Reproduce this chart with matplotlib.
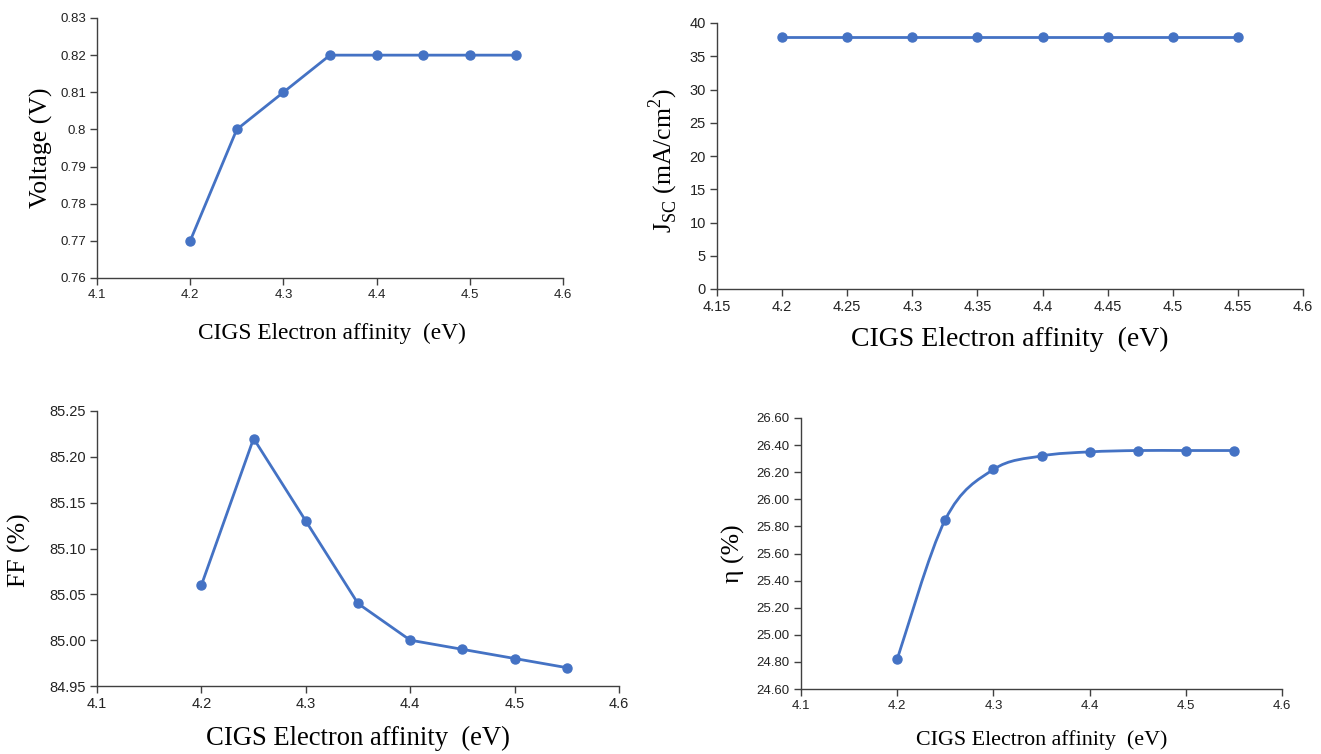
import numpy as np
import matplotlib.pyplot as plt
from matplotlib.path import Path
import matplotlib.patches as patches

# --- data ---
affinity = [4.2, 4.25, 4.3, 4.35, 4.4, 4.45, 4.5, 4.55]
voc = [0.77, 0.80, 0.81, 0.82, 0.82, 0.82, 0.82, 0.82]
jsc = [37.9, 37.9, 37.9, 37.9, 37.9, 37.9, 37.9, 37.9]
ff = [85.06, 85.22, 85.13, 85.04, 85.00, 84.99, 84.98, 84.97]
eta = [24.82, 25.85, 26.22, 26.32, 26.35, 26.36, 26.36, 26.36]

BLUE = '#4472C4'
TICK_FONT = 'Liberation Sans'
LABEL_FONT = 'Liberation Serif'
LW = 2.0
MS = 6.5
W, H = 1321, 754


def box(l, r, t, b):
    # axes rectangle from pixel edges (top-left origin)
    return [l / W, 1 - b / H, (r - l) / W, (b - t) / H]


fig = plt.figure(figsize=(13.21, 7.54), dpi=100)

ax1 = fig.add_axes(box(97, 563, 18, 278))
ax2 = fig.add_axes(box(717, 1303, 23, 289))
ax3 = fig.add_axes(box(97, 619, 411, 686))
ax4 = fig.add_axes(box(801, 1282, 418, 689))


def style(ax, tick_size):
    for s in ['top', 'right']:
        ax.spines[s].set_visible(False)
    for s in ['left', 'bottom']:
        ax.spines[s].set_color('#404040')
        ax.spines[s].set_linewidth(1.0)
    ax.tick_params(direction='out', length=5, width=1.0, color='#404040',
                   labelsize=tick_size, labelcolor='#222222', pad=3)
    for lab in ax.get_xticklabels() + ax.get_yticklabels():
        lab.set_family(TICK_FONT)


def labels(ax, xsize, ysize, xpos, ypos, ytext):
    ax.set_xlabel('CIGS Electron affinity  (eV)', family=LABEL_FONT, fontsize=xsize)
    ax.xaxis.set_label_coords(*xpos)
    ax.xaxis.label.set_verticalalignment('center')
    ax.set_ylabel(ytext, family=LABEL_FONT, fontsize=ysize)
    ax.yaxis.set_label_coords(*ypos)
    ax.yaxis.label.set_verticalalignment('center')


def smooth_line(ax, x, y):
    # Excel-like smoothed line: Catmull-Rom drawn as cubic Bezier segments
    pts = np.column_stack([x, y])
    ext = np.vstack([pts[0], pts, pts[-1]])
    verts = [tuple(pts[0])]
    codes = [Path.MOVETO]
    for i in range(1, len(ext) - 2):
        p0, p1, p2, p3 = ext[i - 1], ext[i], ext[i + 1], ext[i + 2]
        c1 = p1 + (p2 - p0) / 6.0
        c2 = p2 - (p3 - p1) / 6.0
        verts += [tuple(c1), tuple(c2), tuple(p2)]
        codes += [Path.CURVE4] * 3
    patch = patches.PathPatch(Path(verts, codes), fill=False, ec=BLUE, lw=LW)
    ax.add_patch(patch)


# panel 1 - voltage
ax1.plot(affinity, voc, color=BLUE, lw=LW, marker='o', ms=MS)
ax1.set_xlim(4.1, 4.6)
ax1.set_ylim(0.76, 0.83)
ax1.set_xticks([4.1, 4.2, 4.3, 4.4, 4.5, 4.6])
ax1.set_xticklabels(['4.1', '4.2', '4.3', '4.4', '4.5', '4.6'])
ax1.set_yticks([0.76, 0.77, 0.78, 0.79, 0.8, 0.81, 0.82, 0.83])
ax1.set_yticklabels(['0.76', '0.77', '0.78', '0.79', '0.8', '0.81', '0.82', '0.83'])
style(ax1, 9.5)
labels(ax1, 16.8, 18.5, (0.504, -0.212), (-0.12, 0.5), 'Voltage (V)')

# panel 2 - Jsc
ax2.plot(affinity, jsc, color=BLUE, lw=LW, marker='o', ms=MS)
ax2.set_xlim(4.15, 4.6)
ax2.set_ylim(0, 40)
ax2.set_xticks([4.15, 4.2, 4.25, 4.3, 4.35, 4.4, 4.45, 4.5, 4.55, 4.6])
ax2.set_xticklabels(['4.15', '4.2', '4.25', '4.3', '4.35', '4.4', '4.45', '4.5', '4.55', '4.6'])
ax2.set_yticks(range(0, 41, 5))
style(ax2, 10.5)
labels(ax2, 20, 18.5, (0.5, -0.19), (-0.092, 0.483),
       r'J$_{\mathregular{SC}}$ (mA/cm$^{\mathregular{2}}$)')

# panel 3 - FF
ax3.plot(affinity, ff, color=BLUE, lw=LW, marker='o', ms=MS)
ax3.set_xlim(4.1, 4.6)
ax3.set_ylim(84.95, 85.25)
ax3.set_xticks([4.1, 4.2, 4.3, 4.4, 4.5, 4.6])
ax3.set_xticklabels(['4.1', '4.2', '4.3', '4.4', '4.5', '4.6'])
ax3.set_yticks([84.95, 85.0, 85.05, 85.1, 85.15, 85.2, 85.25])
ax3.set_yticklabels(['84.95', '85.00', '85.05', '85.10', '85.15', '85.20', '85.25'])
style(ax3, 10.5)
labels(ax3, 19.2, 18.5, (0.5, -0.189), (-0.149, 0.495), 'FF (%)')

# panel 4 - efficiency (smoothed line)
smooth_line(ax4, affinity, eta)
ax4.plot(affinity, eta, color=BLUE, lw=0, marker='o', ms=MS)
ax4.set_xlim(4.1, 4.6)
ax4.set_ylim(24.6, 26.6)
ax4.set_xticks([4.1, 4.2, 4.3, 4.4, 4.5, 4.6])
ax4.set_xticklabels(['4.1', '4.2', '4.3', '4.4', '4.5', '4.6'])
yt = [24.6, 24.8, 25.0, 25.2, 25.4, 25.6, 25.8, 26.0, 26.2, 26.4, 26.6]
ax4.set_yticks(yt)
ax4.set_yticklabels([f'{v:.2f}' for v in yt])
style(ax4, 9.5)
labels(ax4, 15.8, 18.5, (0.5, -0.188), (-0.14, 0.498), 'η (%)')

fig.savefig('out.png', dpi=100)
